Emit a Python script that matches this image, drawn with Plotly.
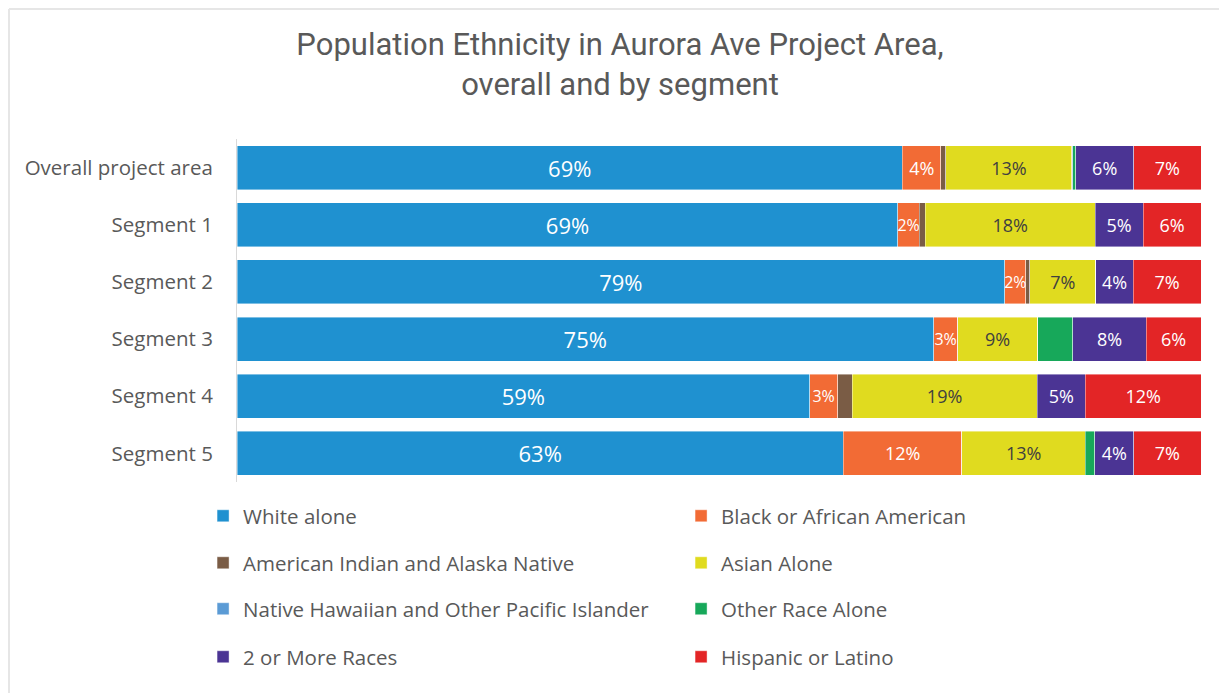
import plotly.graph_objects as go

categories = ["Overall project area", "Segment 1", "Segment 2", "Segment 3", "Segment 4", "Segment 5"]

series_names = [
    "White alone",
    "Black or African American",
    "American Indian and Alaska Native",
    "Asian Alone",
    "Native Hawaiian and Other Pacific Islander",
    "Other Race Alone",
    "2 or More Races",
    "Hispanic or Latino",
]

white = [69.1, 68.6, 79.4, 75.0, 59.4, 62.9]
black = [4.0, 2.2, 2.2, 2.6, 2.9, 12.3]
aian = [0.5, 0.65, 0.4, 0.0, 1.5, 0.0]
asian = [13.1, 17.6, 6.8, 8.6, 19.2, 12.8]
nhpi = [0.1, 0.0, 0.0, 0.0, 0.0, 0.0]
other = [0.3, 0.0, 0.0, 3.8, 0.0, 1.0]
multi = [6.0, 5.0, 3.9, 7.9, 5.0, 4.0]
hispanic = [7.0, 6.0, 7.0, 5.9, 12.0, 7.0]

colors = ["#1F91D0", "#F26B35", "#7A5C45", "#E0DB1F", "#5B9BD5", "#17A85A", "#4B3494", "#E32526"]
show_labels = [True, True, False, True, False, False, True, True]
text_colors = ["white", "white", "white", "#404040", "white", "white", "white", "white"]

all_values = [white, black, aian, asian, nhpi, other, multi, hispanic]

legend_ids = ["legend", "legend", "legend2", "legend2", "legend3", "legend3", "legend4", "legend4"]

FONT = "Open Sans, Lato, sans-serif"

W, H = 1219, 685
L, T = 229, 131
R = 26
B = 211
PW = W - L - R
PH = H - T - B

fig = go.Figure()
for i, (name, vals) in enumerate(zip(series_names, all_values)):
    if show_labels[i]:
        texts = [f"{round(v)}%" if v >= 1.5 else "" for v in vals]
    else:
        texts = ["" for v in vals]
    if i == 0:
        sizes = [22] * len(vals)
    else:
        sizes = [16 if v < 3.5 else 18 for v in vals]
    fig.add_trace(go.Bar(
        name=name,
        y=categories,
        x=vals,
        orientation="h",
        marker=dict(color=colors[i], line=dict(color="rgba(255,255,255,0.7)", width=0.6)),
        text=texts,
        textposition="inside",
        insidetextanchor="middle",
        textangle=0,
        constraintext="none",
        textfont=dict(color=text_colors[i], size=sizes, family=FONT),
        legend=legend_ids[i],
        hoverinfo="name+x",
    ))

row_y = [-0.099, -0.236, -0.370, -0.510]
legend_common = dict(
    orientation="h",
    x=-0.0352,
    xanchor="left",
    yanchor="middle",
    entrywidth=433,
    entrywidthmode="pixels",
    itemwidth=30,
    font=dict(size=20.5, color="#595959", family=FONT),
    bgcolor="rgba(0,0,0,0)",
    traceorder="normal",
)

fig.update_layout(
    width=W,
    height=H,
    barmode="stack",
    barnorm="percent",
    bargap=0.23,
    paper_bgcolor="white",
    plot_bgcolor="white",
    margin=dict(l=L, r=R, t=T, b=B),
    font=dict(family=FONT, color="#595959"),
    title=dict(
        text="Population Ethnicity in Aurora Ave Project Area,<br>overall and by segment",
        x=612 / W,
        xanchor="center",
        xref="container",
        yref="container",
        y=1 - 47 / H,
        yanchor="top",
        font=dict(size=31, color="#595959", family="Roboto, Lato, sans-serif"),
    ),
    xaxis=dict(
        range=[0, 100],
        showgrid=False,
        zeroline=False,
        showticklabels=False,
        showline=False,
        fixedrange=True,
    ),
    yaxis=dict(
        autorange="reversed",
        showgrid=False,
        showline=True,
        linecolor="#d9d9d9",
        linewidth=1,
        ticks="",
        ticklabelstandoff=19,
        tickfont=dict(size=20.5, color="#595959", family=FONT),
    ),
    legend=dict(legend_common, y=row_y[0]),
    legend2=dict(legend_common, y=row_y[1]),
    legend3=dict(legend_common, y=row_y[2]),
    legend4=dict(legend_common, y=row_y[3]),
    shapes=[
        dict(type="line", xref="paper", yref="paper",
             x0=(1 - L) / PW, x1=(W - L) / PW,
             y0=(PH + T - 1) / PH, y1=(PH + T - 1) / PH,
             line=dict(color="#e6e6e6", width=2)),
        dict(type="line", xref="paper", yref="paper",
             x0=(1 - L) / PW, x1=(1 - L) / PW,
             y0=(PH + T - 1) / PH, y1=-B / PH,
             line=dict(color="#e6e6e6", width=2)),
    ],
)

fig.write_html("out.html")
